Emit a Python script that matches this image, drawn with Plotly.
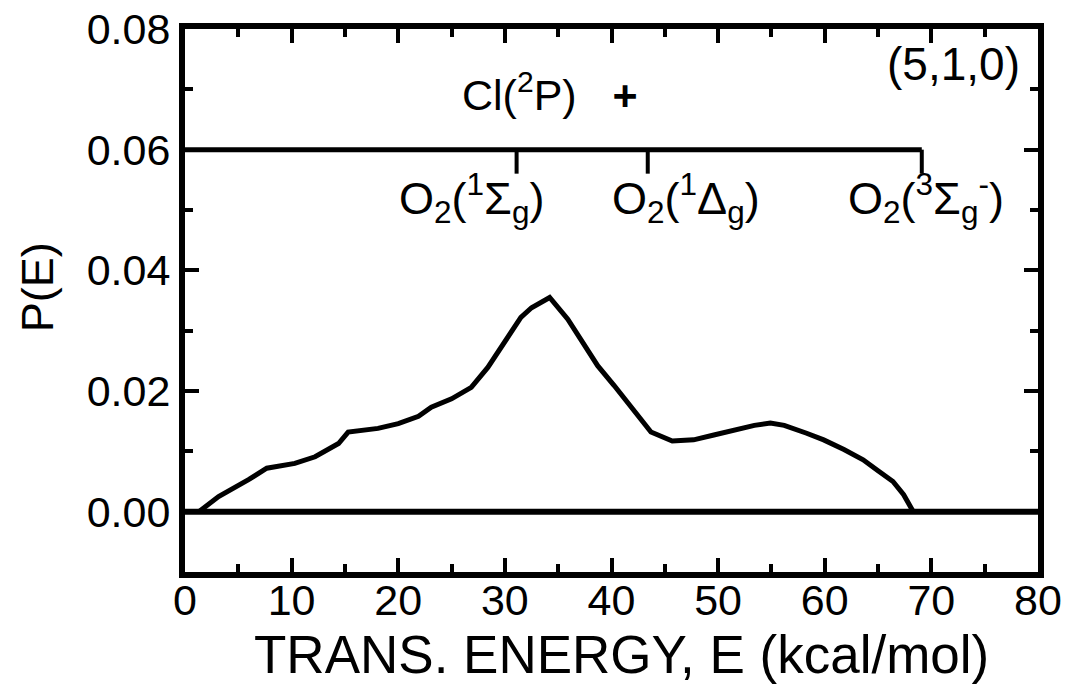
import plotly.graph_objects as go

# Data
energy = [1.3, 3.15, 5.96, 7.67, 10.3, 12.2, 14.4, 15.3, 18.1, 20.0, 21.9, 23.1, 25.0,
          26.85, 28.4, 30.0, 31.5, 32.5, 34.2, 35.9, 37.45, 38.7, 40.25, 41.8, 43.7,
          45.7, 47.7, 49.6, 51.8, 53.4, 54.9, 56.2, 58.3, 59.9, 61.8, 63.6, 64.9,
          66.4, 67.4, 68.3]
p_e = [0.0, 0.0025, 0.0053, 0.0072, 0.0080, 0.0091, 0.0113, 0.0132, 0.0138, 0.0146,
       0.0158, 0.0173, 0.0187, 0.0206, 0.0239, 0.0280, 0.0322, 0.0338, 0.0355, 0.0319,
       0.0278, 0.0242, 0.0209, 0.0173, 0.0132, 0.0117, 0.0119, 0.0127, 0.0136, 0.0143,
       0.0147, 0.0143, 0.0130, 0.0119, 0.0103, 0.0086, 0.0069, 0.0050, 0.0028, 0.0]

state_energies = [31.1, 43.4, 69.1]   # thresholds of O2 product states
bracket_level = 0.06
state_labels = ["O<sub>2</sub>(<sup>1</sup>Σ<sub>g</sub>)",
                "O<sub>2</sub>(<sup>1</sup>Δ<sub>g</sub>)",
                "O<sub>2</sub>(<sup>3</sup>Σ<sub>g</sub><sup>-</sup>)"]
label_x = [26.9, 47.0, 69.5]
x_ticks = [0, 10, 20, 30, 40, 50, 60, 70, 80]
y_ticks = [0.00, 0.02, 0.04, 0.06, 0.08]
x_title = "TRANS. ENERGY, E (kcal/mol)"
y_title = "P(E)"

FONT = "Liberation Sans, Arial, sans-serif"

fig = go.Figure()
fig.add_trace(go.Scatter(x=energy, y=p_e, mode="lines",
                         line=dict(color="black", width=5), showlegend=False))

# zero line
fig.add_hline(y=0, line=dict(color="black", width=6))
# bracket line
fig.add_shape(type="line", xref="x", yref="y", x0=0, x1=state_energies[-1],
              y0=bracket_level, y1=bracket_level, line=dict(color="black", width=5))
for e in state_energies:
    fig.add_shape(type="line", xref="x", yref="y", x0=e, x1=e,
                  ysizemode="pixel", yanchor=bracket_level, y0=0, y1=-24,
                  line=dict(color="black", width=4))

fig.add_annotation(x=34.2, y=0.0695, xref="x", yref="y", showarrow=False,
                   text="Cl(<sup>2</sup>P)&nbsp;&nbsp;&nbsp;<b>+</b>",
                   font=dict(size=43, family=FONT, color="black"))
fig.add_annotation(x=78.5, y=0.0742, xref="x", yref="y", showarrow=False, xanchor="right",
                   text="(5,1,0)", font=dict(size=46, family=FONT, color="black"))
for lx, lt in zip(label_x, state_labels):
    fig.add_annotation(x=lx, y=0.052, xref="x", yref="y", showarrow=False,
                       text=lt, font=dict(size=45, family=FONT, color="black"))

# axis titles
fig.add_annotation(x=0.512, y=-0.152, xref="paper", yref="paper", showarrow=False,
                   xanchor="center", yanchor="middle", text=x_title,
                   font=dict(size=53, family=FONT, color="black"))
fig.add_annotation(x=-0.172, y=0.525, xref="paper", yref="paper", showarrow=False,
                   xanchor="center", yanchor="middle", textangle=-90, text=y_title,
                   font=dict(size=45, family=FONT, color="black"))

axis_common = dict(ticks="inside", tickwidth=4, tickcolor="black", ticklen=14,
                   showline=True, linewidth=6, linecolor="black", mirror="allticks",
                   showgrid=False, zeroline=False, automargin=False)
fig.update_xaxes(range=[0, 80], tickvals=x_ticks, ticktext=[str(v) for v in x_ticks],
                 minor=dict(dtick=5, ticks="inside", ticklen=8, tickwidth=4, tickcolor="black"),
                 tickfont=dict(size=43, family=FONT, color="black"), ticklabelstandoff=-15,
                 **axis_common)
fig.update_yaxes(range=[-0.01, 0.08], tickvals=y_ticks, ticktext=[f"{v:.2f}" for v in y_ticks],
                 minor=dict(dtick=0.01, ticks="inside", ticklen=8, tickwidth=4, tickcolor="black"),
                 tickfont=dict(size=43, family=FONT, color="black"),
                 **axis_common)
fig.update_layout(width=1066, height=689, plot_bgcolor="white", paper_bgcolor="white",
                  margin=dict(l=185, r=28, t=29, b=117), showlegend=False)
fig.write_html("out.html", config={"displayModeBar": False},
               post_script="document.body.style.margin='0';")
